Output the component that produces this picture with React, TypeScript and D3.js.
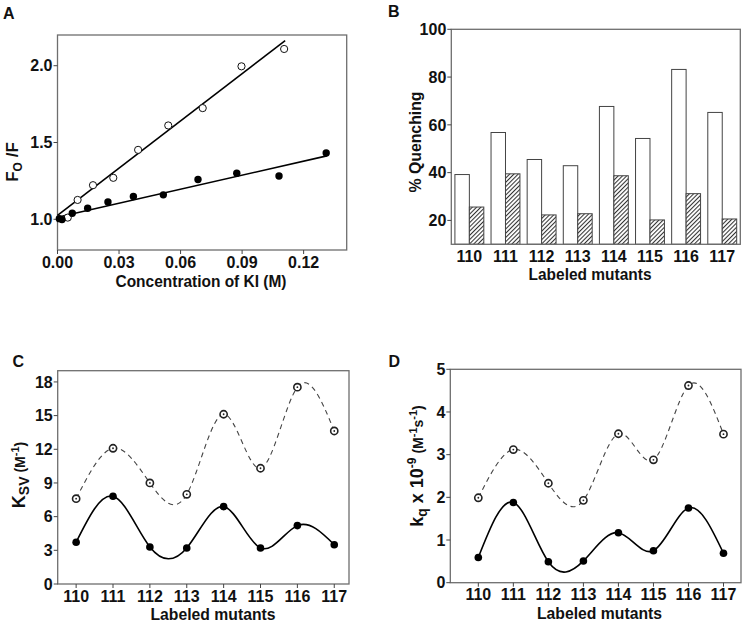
import React from 'react';
import * as d3 from 'd3';

// ---------- Data ----------
// Panel A: Stern-Volmer plot
const kiOpenX = [0.005, 0.0098, 0.0173, 0.0272, 0.0393, 0.054, 0.0708, 0.0897, 0.1105];
const kiOpenY = [1.011, 1.126, 1.222, 1.27, 1.452, 1.611, 1.724, 1.996, 2.109];
const kiFilledX = [0.0009, 0.0022, 0.0072, 0.0147, 0.0246, 0.037, 0.0516, 0.0685, 0.0874, 0.108, 0.131];
const kiFilledY = [1.004, 0.998, 1.039, 1.072, 1.113, 1.148, 1.159, 1.259, 1.3, 1.282, 1.432];
const fitOpenX = [0, 0.111];
const fitOpenY = [1.025, 2.163];
const fitFilledX = [0, 0.1313];
const fitFilledY = [1.013, 1.413];
const aTicksX = [0, 0.03, 0.06, 0.09, 0.12];
const aTicksY = [1.0, 1.5, 2.0];

// Panel B: % quenching
const mutants = [110, 111, 112, 113, 114, 115, 116, 117];
const quenchOpen = [39.2, 56.8, 45.5, 42.9, 67.7, 54.3, 83.2, 65.2];
const quenchHatched = [25.6, 39.5, 22.3, 22.8, 38.7, 20.2, 31.2, 20.6];
const bTicksY = [20, 40, 60, 80, 100];

// Panel C: Ksv
const ksvOpen = [7.6, 12.09, 9.0, 7.99, 15.12, 10.31, 17.53, 13.63];
const ksvFilled = [3.72, 7.81, 3.3, 3.21, 6.89, 3.21, 5.2, 3.5];
const cTicksY = [0, 3, 6, 9, 12, 15, 18];

// Panel D: kq
const kqOpen = [1.99, 3.12, 2.33, 1.93, 3.49, 2.88, 4.62, 3.48];
const kqFilled = [0.59, 1.88, 0.49, 0.51, 1.17, 0.75, 1.75, 0.69];
const dTicksY = [0, 1, 2, 3, 4, 5];

const FONT = "'Liberation Sans', Arial, Helvetica, sans-serif";
const FRAME = '#6e6e6e';

type Box = { l: number; r: number; t: number; b: number };

function Frame({ box }: { box: Box }) {
  return (
    <rect x={box.l} y={box.t} width={box.r - box.l} height={box.b - box.t}
      fill="none" stroke={FRAME} strokeWidth={1.3} />
  );
}

function LeftAxis({ box, scale, ticks, fmt }: { box: Box; scale: any; ticks: number[]; fmt: (v: number) => string }) {
  return (
    <g>
      {ticks.map((t) => (
        <g key={t}>
          <line x1={box.l - 4} x2={box.l} y1={scale(t)} y2={scale(t)} stroke="#444" strokeWidth={1} />
          <text x={box.l - 5} y={scale(t)} dy="0.36em" textAnchor="end" fontSize={16} fontWeight="bold" fontFamily={FONT} fill="#111">{fmt(t)}</text>
        </g>
      ))}
    </g>
  );
}

function BottomAxis({ box, pos, ticks, fmt, tickMarks = true, dy = 18 }: { box: Box; pos: (v: any) => number; ticks: any[]; fmt: (v: any) => string; tickMarks?: boolean; dy?: number }) {
  return (
    <g>
      {ticks.map((t) => (
        <g key={String(t)}>
          {tickMarks && <line x1={pos(t)} x2={pos(t)} y1={box.b} y2={box.b + 4} stroke="#444" strokeWidth={1} />}
          <text x={pos(t)} y={box.b + dy} textAnchor="middle" fontSize={16} fontWeight="bold" fontFamily={FONT} fill="#111">{fmt(t)}</text>
        </g>
      ))}
    </g>
  );
}

function PanelLabel({ x, y, text }: { x: number; y: number; text: string }) {
  return <text x={x} y={y} fontSize={16} fontWeight="bold" fontFamily={FONT} fill="#111">{text}</text>;
}

function OpenDot({ cx, cy }: { cx: number; cy: number }) {
  return (
    <g>
      <circle cx={cx} cy={cy} r={3.6} fill="#fff" stroke="#222" strokeWidth={1.6} />
      <circle cx={cx} cy={cy} r={0.9} fill="#222" />
    </g>
  );
}

function PanelA() {
  const box: Box = { l: 57.5, r: 346.7, t: 35, b: 250 };
  const x = d3.scaleLinear().domain([0, 0.141]).range([box.l, box.r]);
  const y = d3.scaleLinear().domain([0.8, 2.2]).range([box.b, box.t]);
  const line = d3.line<[number, number]>().x((d) => x(d[0])).y((d) => y(d[1]));
  const openFit = fitOpenX.map((v, i) => [v, fitOpenY[i]] as [number, number]);
  const filledFit = fitFilledX.map((v, i) => [v, fitFilledY[i]] as [number, number]);
  return (
    <g>
      <PanelLabel x={3} y={18.5} text="A" />
      <Frame box={box} />
      <LeftAxis box={box} scale={y} ticks={aTicksY} fmt={d3.format('.1f')} />
      <BottomAxis box={box} pos={x} ticks={aTicksX} fmt={d3.format('.2f')} dy={18} />
      <path d={line(openFit) || ''} stroke="#000" strokeWidth={1.6} fill="none" />
      <path d={line(filledFit) || ''} stroke="#000" strokeWidth={1.6} fill="none" />
      {kiOpenX.map((v, i) => (
        <circle key={'o' + i} cx={x(v)} cy={y(kiOpenY[i])} r={3.6} fill="#fff" stroke="#111" strokeWidth={1} />
      ))}
      {kiFilledX.map((v, i) => (
        <circle key={'f' + i} cx={x(v)} cy={y(kiFilledY[i])} r={3.7} fill="#000" />
      ))}
      <text x={201} y={287} textAnchor="middle" fontSize={17} fontWeight="bold" fontFamily={FONT} fill="#111"
        textLength={171} lengthAdjust="spacingAndGlyphs">Concentration of KI (M)</text>
      <text transform="translate(17.5,162) rotate(-90)" textAnchor="middle" fontSize={17} fontWeight="bold" fontFamily={FONT} fill="#111">
        <tspan>F</tspan>
        <tspan fontSize={12} dy={4}>O</tspan>
        <tspan dy={-4}> /F</tspan>
      </text>
    </g>
  );
}

function PanelB() {
  const box: Box = { l: 451.3, r: 740.3, t: 29.3, b: 244.3 };
  const x = d3.scaleBand<number>().domain(mutants).range([box.l, box.r]).paddingInner(0).paddingOuter(0);
  const sub = d3.scaleBand<string>().domain(['open', 'hatched']).range([0, x.bandwidth()]).paddingInner(0).paddingOuter(0.25);
  const y = d3.scaleLinear().domain([10, 100]).range([box.b, box.t]);
  return (
    <g>
      <defs>
        <pattern id="hatch" patternUnits="userSpaceOnUse" width={3} height={3} patternTransform="rotate(45)">
          <rect width={3} height={3} fill="#fff" />
          <line x1={0.5} y1={0} x2={0.5} y2={3} stroke="#333" strokeWidth={1.1} />
        </pattern>
      </defs>
      <PanelLabel x={388} y={17} text="B" />
      {mutants.map((m, i) => (
        <g key={m}>
          <rect x={(x(m) || 0) + (sub('open') || 0)} y={y(quenchOpen[i])} width={sub.bandwidth()} height={y(10) - y(quenchOpen[i])}
            fill="#fff" stroke="#444" strokeWidth={1} />
          <rect x={(x(m) || 0) + (sub('hatched') || 0)} y={y(quenchHatched[i])} width={sub.bandwidth()} height={y(10) - y(quenchHatched[i])}
            fill="url(#hatch)" stroke="#444" strokeWidth={1} />
        </g>
      ))}
      <Frame box={box} />
      <LeftAxis box={box} scale={y} ticks={bTicksY} fmt={d3.format('d')} />
      <BottomAxis box={box} pos={(m) => (x(m) || 0) + x.bandwidth() / 2} ticks={mutants} fmt={String} tickMarks={false} dy={17.7} />
      <text x={590} y={279.5} textAnchor="middle" fontSize={17} fontWeight="bold" fontFamily={FONT} fill="#111"
        textLength={123} lengthAdjust="spacingAndGlyphs">Labeled mutants</text>
      <text transform="translate(421,142) rotate(-90)" textAnchor="middle" fontSize={17} fontWeight="bold" fontFamily={FONT} fill="#111"
        textLength={101} lengthAdjust="spacingAndGlyphs">% Quenching</text>
    </g>
  );
}

function CurvePanel({ box, xDomain, yDomain, ticksY, openVals, filledVals }: any) {
  const x = d3.scaleLinear().domain(xDomain).range([box.l, box.r]);
  const y = d3.scaleLinear().domain(yDomain).range([box.b, box.t]);
  const line = d3.line<number>().x((_, i) => x(mutants[i])).y((d) => y(d)).curve(d3.curveNatural);
  return (
    <g>
      <Frame box={box} />
      <LeftAxis box={box} scale={y} ticks={ticksY} fmt={d3.format('d')} />
      <BottomAxis box={box} pos={x} ticks={mutants} fmt={String} dy={17.7} />
      <path d={line(openVals) || ''} fill="none" stroke="#444" strokeWidth={1.1} strokeDasharray="5,4" />
      <path d={line(filledVals) || ''} fill="none" stroke="#000" strokeWidth={1.6} />
      {openVals.map((v: number, i: number) => <OpenDot key={'o' + i} cx={x(mutants[i])} cy={y(v)} />)}
      {filledVals.map((v: number, i: number) => <circle key={'f' + i} cx={x(mutants[i])} cy={y(v)} r={3.8} fill="#000" />)}
    </g>
  );
}

function PanelC() {
  const box: Box = { l: 57.7, r: 349, t: 370.7, b: 584 };
  return (
    <g>
      <PanelLabel x={12.5} y={366.5} text="C" />
      <CurvePanel box={box} xDomain={[109.5, 117.4]} yDomain={[0, 19]} ticksY={cTicksY} openVals={ksvOpen} filledVals={ksvFilled} />
      <text x={213} y={619.5} textAnchor="middle" fontSize={17} fontWeight="bold" fontFamily={FONT} fill="#111"
        textLength={125} lengthAdjust="spacingAndGlyphs">Labeled mutants</text>
      <text transform="translate(25,475) rotate(-90)" textAnchor="middle" fontWeight="bold" fontFamily={FONT} fill="#111">
        <tspan fontSize={18}>K</tspan>
        <tspan fontSize={14} dy={4}>SV</tspan>
        <tspan fontSize={14} dy={-4}> (M</tspan>
        <tspan fontSize={11} dy={-6}>-1</tspan>
        <tspan fontSize={14} dy={6}>)</tspan>
      </text>
    </g>
  );
}

function PanelD() {
  const box: Box = { l: 450.3, r: 741, t: 369.3, b: 582.7 };
  return (
    <g>
      <PanelLabel x={388.5} y={366.5} text="D" />
      <CurvePanel box={box} xDomain={[109.2, 117.5]} yDomain={[0, 5]} ticksY={dTicksY} openVals={kqOpen} filledVals={kqFilled} />
      <text x={599.5} y={619} textAnchor="middle" fontSize={17} fontWeight="bold" fontFamily={FONT} fill="#111"
        textLength={125} lengthAdjust="spacingAndGlyphs">Labeled mutants</text>
      <text transform="translate(422.5,466) rotate(-90)" textAnchor="middle" fontWeight="bold" fontFamily={FONT} fill="#111">
        <tspan fontSize={18}>k</tspan>
        <tspan fontSize={14} dy={4}>q</tspan>
        <tspan fontSize={18} dy={-4}> x 10</tspan>
        <tspan fontSize={12} dy={-7}>-9</tspan>
        <tspan fontSize={14} dy={7}> (M</tspan>
        <tspan fontSize={11} dy={-6}>-1</tspan>
        <tspan fontSize={14} dy={6}>s</tspan>
        <tspan fontSize={11} dy={-6}>-1</tspan>
        <tspan fontSize={14} dy={6}>)</tspan>
      </text>
    </g>
  );
}

export default function App() {
  return (
    <svg width={744} height={623} style={{ position: 'absolute', left: 0, top: 0, background: '#fff' }}>
      <rect width={744} height={623} fill="#fff" />
      <PanelA />
      <PanelB />
      <PanelC />
      <PanelD />
    </svg>
  );
}
